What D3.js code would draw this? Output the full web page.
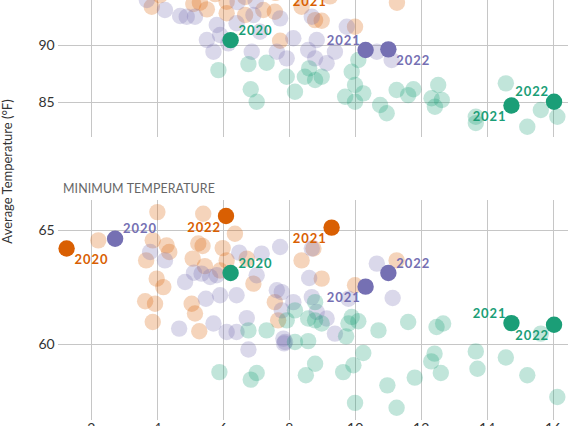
<!DOCTYPE html>
<html>
<head>
<meta charset="utf-8">
<script src="https://cdn.jsdelivr.net/npm/d3@7"></script>
<style>
  html, body { margin: 0; padding: 0; background: #fff; }
  svg { display: block; font-family: Lato, "Open Sans", sans-serif; }
</style>
</head>
<body>
<svg id="chart" width="568" height="426"></svg>
<script>
// ---------- DATA ----------
const panelTitles = ["MAXIMUM TEMPERATURE", "MINIMUM TEMPERATURE"];
const yAxisTitle = "Average Temperature (°F)";
const xTickValues = [2, 4, 6, 8, 10, 12, 14, 16];
const maxTickValues = [85, 90, 95, 100];
const minTickValues = [60, 65];
const seriesNames = ["orange", "purple", "green"];
const seriesColors = ["#d95f02", "#7570b3", "#1b9e77"];
const highlightYears = [2020, 2021, 2022];

// light points [x, value]
const orangeMax = [[3.85,93.30],[5.11,93.53],[5.31,93.65],[5.52,93.07],[6.12,92.73],[6.12,93.73],[6.68,92.58],
  [7.23,93.01],[7.58,92.86],[7.74,90.35],[8.39,93.30],[8.80,92.14],[9.00,92.08],[10.01,91.56],[11.28,93.65],
  [4.10,94.30],[5.77,94.40],[6.68,94.15],[9.25,94.20],[7.60,94.50],[3.20,94.60]];
const purpleMax = [[3.70,93.88],[4.25,93.01],[4.71,92.49],[4.91,92.43],[5.16,92.43],[5.82,91.71],[5.52,90.41],
  [5.92,90.84],[5.72,89.39],[6.42,91.86],[6.93,92.58],[6.88,89.39],[7.64,89.39],[7.74,92.29],[7.94,88.82],
  [8.14,90.56],[8.70,92.43],[8.85,90.41],[8.59,89.54],[8.80,88.82],[9.15,88.39],[9.40,89.39],[9.76,91.56],
  [10.67,89.39],[11.12,88.67],[6.17,90.12],[7.13,91.13],[6.45,93.70],[7.00,93.80]];
const greenMax = [[5.87,87.80],[6.78,88.32],[7.33,88.44],[6.85,86.13],[7.03,85.05],[7.94,87.22],[8.19,85.92],
  [8.49,87.22],[8.62,87.95],[8.80,86.94],[9.00,87.22],[10.11,88.67],[9.91,87.66],[10.01,86.50],[10.26,85.78],
  [9.71,85.49],[10.01,85.05],[10.77,84.77],[10.97,84.05],[11.27,86.07],[11.62,85.63],[11.78,86.13],
  [12.33,85.35],[12.53,86.50],[12.64,85.20],[12.43,84.62],[14.58,86.65],[13.67,83.75],[13.67,83.20],
  [15.23,82.88],[15.64,84.33],[16.14,83.75]];
const orangeMin = [[2.23,64.53],[4.02,65.77],[5.41,65.70],[6.37,64.82],[3.88,64.53],[4.30,64.31],[4.38,64.02],
  [3.68,63.65],[5.26,64.39],[5.39,64.28],[5.09,63.73],[6.00,64.19],[5.46,63.40],[6.12,63.65],[5.92,63.21],
  [6.73,63.73],[6.93,62.63],[4.00,62.85],[4.20,62.48],[3.65,61.86],[3.95,61.75],[5.06,61.75],[5.16,61.32],
  [3.88,60.95],[5.29,60.54],[7.58,61.82],[7.68,61.02],[8.39,63.65],[8.75,64.17],[9.00,62.85],[10.01,62.56],
  [11.27,63.65]];
const purpleMin = [[3.80,64.02],[4.25,63.65],[4.86,62.70],[5.13,63.11],[5.36,63.07],[5.62,62.92],[5.82,63.00],
  [5.49,61.97],[5.92,62.12],[6.42,62.12],[6.50,63.99],[7.18,63.95],[7.03,63.00],[7.74,64.24],[7.64,62.34],
  [4.68,60.66],[5.72,60.88],[6.12,60.51],[6.42,60.51],[6.73,61.12],[6.78,59.74],[7.84,60.22],[7.89,60.07],
  [8.70,64.17],[8.62,62.88],[10.67,63.51],[11.15,62.00],[9.81,61.97],[8.14,61.82],[8.70,62.04],[8.85,61.39],
  [9.15,61.10],[9.40,60.44],[7.79,62.26],[7.79,61.46],[7.86,60.01]];
const greenMin = [[6.78,60.58],[7.33,60.58],[7.94,61.02],[5.90,58.75],[6.85,58.42],[7.03,58.71],[8.19,60.07],
  [8.59,60.11],[8.80,59.12],[8.52,58.61],[9.74,60.32],[10.26,59.59],[9.96,59.05],[9.65,58.75],[10.01,57.40],
  [8.80,61.82],[8.19,61.46],[8.59,61.10],[8.80,61.02],[9.00,60.88],[9.91,61.17],[10.11,60.98],[9.81,60.88],
  [10.72,60.58],[11.62,60.95],[12.48,60.73],[12.68,60.88],[10.99,58.17],[11.27,57.19],[11.82,58.51],
  [12.42,59.56],[12.32,59.22],[12.61,58.71],[13.67,59.66],[13.72,58.90],[14.58,59.39],[15.23,58.61],
  [16.14,57.66],[15.64,60.44]];

// highlighted years: x, max, min (order matches highlightYears)
const orangeHlX = [1.27, 9.30, 6.10];
const orangeHlMax = [96.0, 94.7, 96.5];
const orangeHlMin = [64.17, 65.09, 65.60];
const purpleHlX = [2.74, 10.33, 11.02];
const purpleHlMax = [95.5, 89.54, 89.60];
const purpleHlMin = [64.60, 62.50, 63.10];
const greenHlX = [6.24, 14.75, 16.04];
const greenHlMax = [90.40, 84.72, 85.05];
const greenHlMin = [63.10, 60.90, 60.83];

// label placement per highlighted point (ur/ul/lr/ll)
const maxLabelPlace = [["lr","ll","ll"],["ur","ul","lr"],["ur","ll","ul"]];
const minLabelPlace = [["lr","ll","ll"],["ur","ll","ur"],["ur","ul","ll"]];

// ---------- DRAW ----------
const svg = d3.select("#chart");
const W = 568, H = 426;
const x = d3.scaleLinear().domain([1, 16.5]).range([57.7, 569.2]);
const panels = [
  { title: panelTitles[0], y: d3.scaleLinear().domain([82, 101]).range([136.9, -81.98]), ticks: maxTickValues,
    light: [orangeMax, purpleMax, greenMax],
    hl: [[orangeHlX, orangeHlMax],[purpleHlX, purpleHlMax],[greenHlX, greenHlMax]], place: maxLabelPlace, xLabels: false },
  { title: panelTitles[1], y: d3.scaleLinear().domain([56.65, 66.3]).range([420, 200]), ticks: minTickValues,
    light: [orangeMin, purpleMin, greenMin],
    hl: [[orangeHlX, orangeHlMin],[purpleHlX, purpleHlMin],[greenHlX, greenHlMin]], place: minLabelPlace, xLabels: true }
];
const R = 8.2;
const gridColor = "#c6c6c6";
const visible = yy => yy > -6 && yy < H + 6;

panels.forEach(p => {
  const [y0, y1] = p.y.range();
  const g = svg.append("g");
  // horizontal grid + labels (only ticks inside the picture)
  const ya = g.append("g").attr("transform", `translate(${x.range()[0]},0)`)
    .call(d3.axisLeft(p.y).tickValues(p.ticks.filter(v => p.y(v) > 8)).tickSize(-(W - x.range()[0])).tickPadding(3));
  ya.select(".domain").remove();
  ya.selectAll("line").attr("stroke", gridColor).attr("shape-rendering", "crispEdges");
  ya.selectAll("text").attr("font-size", 14).attr("fill", "#333").attr("font-family", "Lato, sans-serif");
  // vertical grid
  const xa = g.append("g").attr("transform", `translate(0,${y0})`)
    .call(d3.axisBottom(x).tickValues(xTickValues).tickSize(-(y0 - y1)).tickPadding(3).tickFormat(p.xLabels ? d3.format("d") : () => ""));
  xa.select(".domain").remove();
  xa.selectAll("line").attr("stroke", gridColor).attr("shape-rendering", "crispEdges");
  xa.selectAll("text").attr("font-size", 14).attr("fill", "#333").attr("font-family", "Lato, sans-serif");
  if (!p.xLabels) xa.selectAll("text").remove();
  // title
  if (visible(y1 - 6)) {
    g.append("text").attr("x", 63).attr("y", y1 - 7).text(p.title)
      .attr("font-size", 12.4).attr("fill", "#666").attr("font-weight", 400).attr("letter-spacing", 0.1);
  }

  // light points
  p.light.forEach((pts, si) => {
    g.append("g").selectAll("circle").data(pts).join("circle")
      .attr("cx", d => x(d[0])).attr("cy", d => p.y(d[1])).attr("r", R)
      .attr("fill", seriesColors[si]).attr("fill-opacity", 0.27);
  });
  // highlighted points + labels
  p.hl.forEach(([xs, vs], si) => {
    highlightYears.forEach((yr, i) => {
      const cx = x(xs[i]), cy = p.y(vs[i]);
      g.append("circle").attr("cx", cx).attr("cy", cy).attr("r", R).attr("fill", seriesColors[si]);
      const pl = p.place[si][i];
      const right = pl[1] === "r", up = pl[0] === "u";
      const ly = up ? cy - 10 : cy + 11;
      if (!visible(ly)) return;
      g.append("text")
        .attr("x", right ? cx + 8 : cx - 5)
        .attr("y", ly)
        .attr("dy", "0.36em")
        .attr("text-anchor", right ? "start" : "end")
        .attr("font-size", 13).attr("font-weight", 700).attr("letter-spacing", 0.9)
        .attr("fill", seriesColors[si]).text(yr);
    });
  });
});

// y axis title
svg.append("text").attr("transform", "translate(12,171.5) rotate(-90)")
  .attr("text-anchor", "middle").attr("font-size", 13).attr("fill", "#333").text(yAxisTitle);
</script>
</body>
</html>
